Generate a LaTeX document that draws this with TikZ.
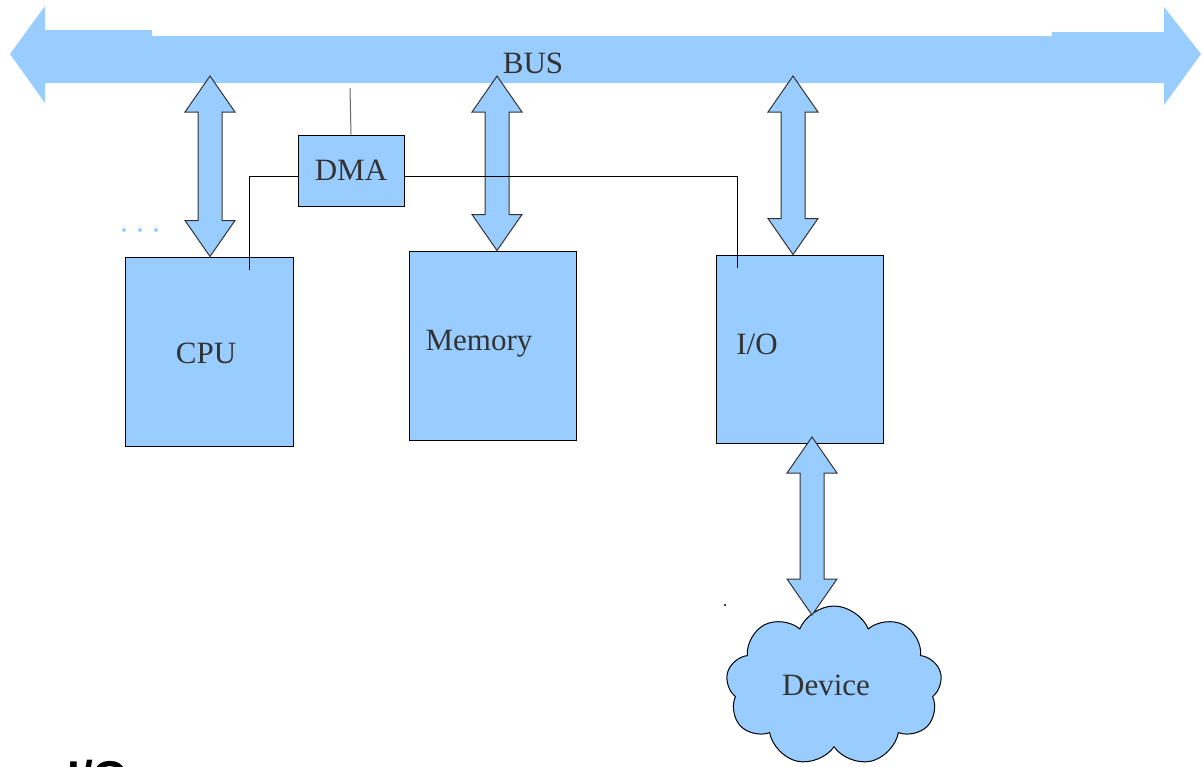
\documentclass[tikz,border=0pt]{standalone}
\usepackage{fontspec}
\setmainfont{Liberation Serif}
\newfontfamily\headfont{Liberation Sans}
\usetikzlibrary{positioning}
\usetikzlibrary{shapes.symbols}
\usetikzlibrary{calc}
\definecolor{busblue}{HTML}{99CCFF}
\definecolor{ink}{HTML}{333333}
\tikzset{
	every node/.style = {font=\fontsize{15.5}{18}\selectfont, text=ink},
	unit/.style = {draw=black, fill=busblue, line width=0.5pt, inner sep=0pt},
	wire/.style = {draw=black, line width=0.5pt},
	arrowbody/.style = {draw=black!80, fill=busblue, line width=0.5pt, line join=miter}
}
% vertical double arrow from #1 (top) down to #2
\newcommand{\dblarrow}[2]{%
	\draw[arrowbody] let \p1=(#1), \p2=(#2) in
		(\x1,\y1) -- (\x1+12.5pt,\y1-18pt) -- (\x1+6pt,\y1-18pt) -- (\x1+6pt,\y2+18pt)
		-- (\x1+12.5pt,\y2+18pt) -- (\x1,\y2) -- (\x1-12.5pt,\y2+18pt) -- (\x1-6pt,\y2+18pt)
		-- (\x1-6pt,\y1-18pt) -- (\x1-12.5pt,\y1-18pt) -- cycle;}

\begin{document}
\begin{tikzpicture}[x=0.5pt, y=-0.5pt]
		\useasboundingbox (0,0) rectangle (1202,766);
		\clip (0,0) rectangle (1202,766);
		
		% system bus
		\fill[busblue] (10,54) -- (45,6) -- (45,30) -- (152,30) -- (152,36) -- (1052,36)
			-- (1052,32) -- (1164,32) -- (1164,7) -- (1201,54) -- (1164,105) -- (1164,83)
			-- (45,83) -- (45,103) -- cycle;
		\node (bus) at (533,63) {BUS};
		
		% units
		\node[unit, minimum width=84pt, minimum height=94.5pt] (cpu) at (209,351.5) {};
		\node[unit, minimum width=83.5pt, minimum height=94.5pt] (mem) at (492.5,345.5) {};
		\node[unit, minimum width=83.5pt, minimum height=94pt] (io) at (799.5,349) {};
		\node[unit, minimum width=53pt, minimum height=35.5pt] (dma) at (351,170.5) {DMA};
		\node[cloud, cloud puffs=9, cloud puff arc=135, aspect=1.35, unit,
			minimum width=108pt, minimum height=80pt] (dev) at (834,686) {};
		
		\node at (206,353) {CPU};
		\node at (479,344) {Memory};
		\node at (757,344) {I/O};
		\node at (826,685) {Device};
		
		% bus links
		\coordinate (cpuTop) at (210,76);
		\coordinate (memTop) at (497,76);
		\coordinate (ioTop) at (793,76);
		\coordinate (devTop) at (812,437);
		\coordinate (devBot) at (812,615);
		\dblarrow{cpuTop}{cpuTop |- cpu.north}
		\dblarrow{memTop}{memTop |- mem.north}
		\dblarrow{ioTop}{ioTop |- io.north}
		\dblarrow{devTop}{devBot}
		
		% dma lines
		\coordinate (busTap) at (350,88);
		\coordinate (cpuTap) at (249,270);
		\coordinate (ioTap) at (737,268);
		\draw[wire, draw=black!60] (dma.north) -- (busTap);
		\draw[wire] ([yshift=-3pt]dma.west) -| (cpuTap);
		\draw[wire] ([yshift=-3pt]dma.east) -| (ioTap);
		
		% more units
		\foreach \x in {124, 140, 156}
			\fill[busblue] (\x,230) circle (1pt);
		\fill (725,605) circle (0.6pt);
		
		\node[anchor=base west, inner sep=0pt, text=black,
			font=\headfont\bfseries\fontsize{23}{26}\selectfont] (title) at (67,793) {I/O};
	\end{tikzpicture}
\end{document}
